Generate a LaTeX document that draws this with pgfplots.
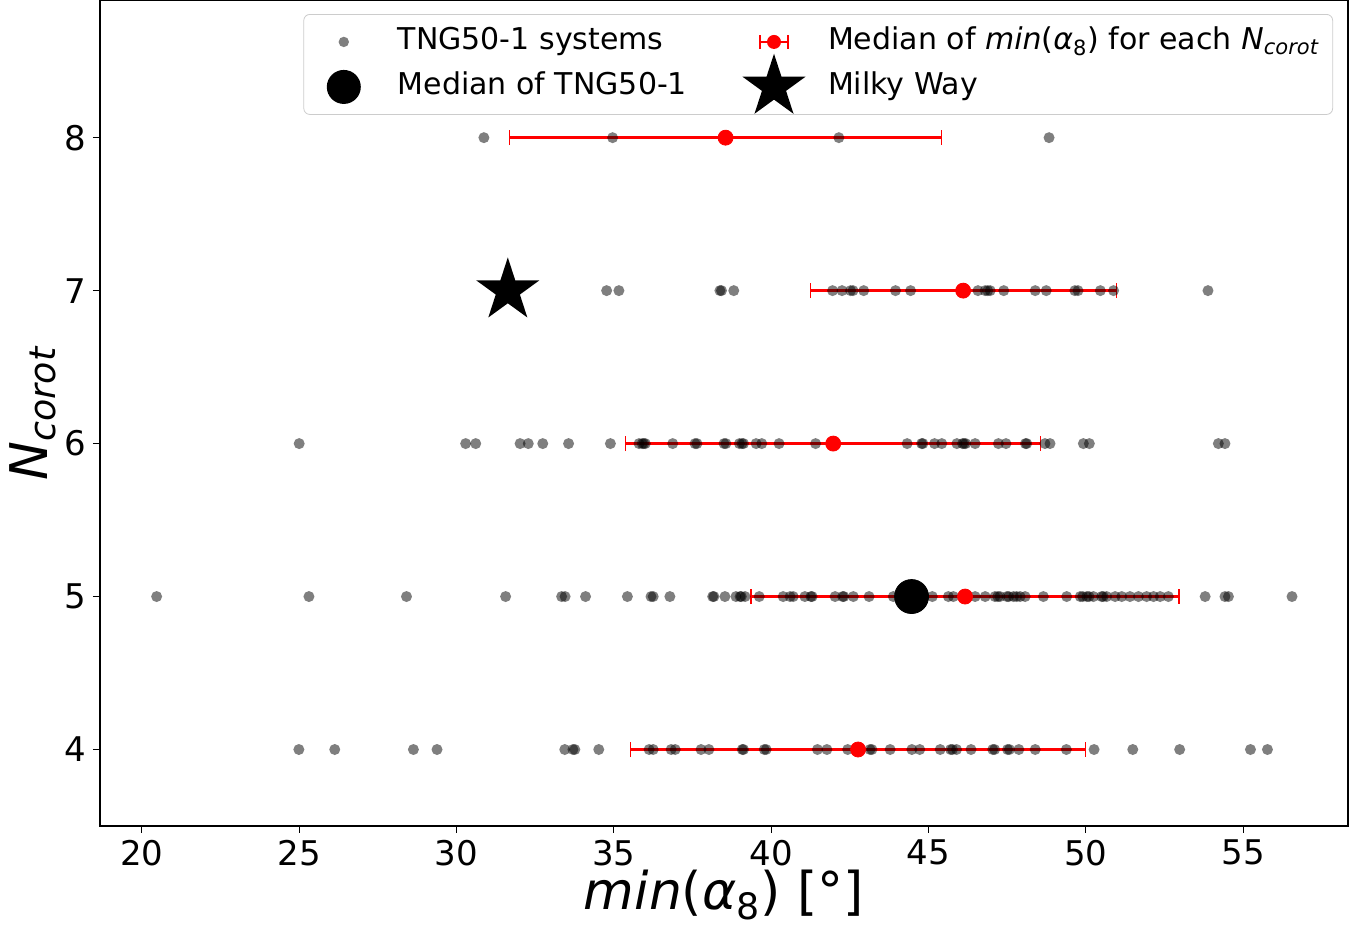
\documentclass[border=0pt]{standalone}
\usepackage{fontspec}
\setmainfont{DejaVu Sans}
\usepackage{pgfplots}
\pgfplotsset{compat=1.18}

\pgfdeclareplotmark{fstar}{%
  \pgfpathmoveto{\pgfpointpolar{90}{\pgfplotmarksize}}%
  \pgfpathlineto{\pgfpointpolar{126}{0.381966*\pgfplotmarksize}}%
  \pgfpathlineto{\pgfpointpolar{162}{\pgfplotmarksize}}%
  \pgfpathlineto{\pgfpointpolar{198}{0.381966*\pgfplotmarksize}}%
  \pgfpathlineto{\pgfpointpolar{234}{\pgfplotmarksize}}%
  \pgfpathlineto{\pgfpointpolar{270}{0.381966*\pgfplotmarksize}}%
  \pgfpathlineto{\pgfpointpolar{306}{\pgfplotmarksize}}%
  \pgfpathlineto{\pgfpointpolar{342}{0.381966*\pgfplotmarksize}}%
  \pgfpathlineto{\pgfpointpolar{18}{\pgfplotmarksize}}%
  \pgfpathlineto{\pgfpointpolar{54}{0.381966*\pgfplotmarksize}}%
  \pgfpathclose
  \pgfusepathqfill
}

\begin{document}
\begin{tikzpicture}
\begin{axis}[
  name=ax,
  scale only axis, width=624pt, height=413pt,
  xmin=18.67, xmax=58.33, ymin=3.5, ymax=8.9,
  xtick={20,25,30,35,40,45,50,55}, ytick={4,5,6,7,8},
  tick align=outside, tick pos=left, major tick length=3.5pt,
  every tick/.style={black, line width=0.6pt},
  axis line style={line width=0.6pt},
  tick label style={font=\fontsize{17}{20}\selectfont},
  /pgf/number format/assume math mode=true,
  xlabel={\textit{min}(\textit{α}\textsubscript{8}) [°]},
  ylabel={\textit{N}\textsubscript{\textit{corot}}},
  label style={font=\fontsize{26}{31}\selectfont},
  xlabel style={at={(axis description cs:0.5,-0.084)}, anchor=center},
  ylabel style={at={(axis description cs:-0.0537,0.5)}, anchor=center},
  legend columns=2,
  legend cell align=left,
  legend style={at={(0.988,0.983)}, anchor=north east, draw=black!20, rounded corners=3pt, fill=white,
    font=\fontsize{15}{18}\selectfont, inner xsep=4.5pt, inner ysep=4.5pt, row sep=4pt,
    nodes={inner sep=2pt, text height=11pt, text depth=3.5pt},
    /tikz/every odd column/.append style={column sep=13pt},
    /tikz/every even column/.append style={column sep=26pt}},
]
% TNG50-1 systems
\addplot[only marks, mark=*, mark size=2.75pt, mark options={fill=black, fill opacity=0.5, draw opacity=0},
  legend image code/.code={\path[draw=none, fill=none, sharp corners] (-3.5pt,-3pt) rectangle (24pt,3pt); \fill[black, fill opacity=0.5, draw=none] (12pt,0pt) circle (2.6pt);}]
coordinates {
(30.87,8) (34.96,8) (42.15,8) (48.83,8)
(34.77,7) (35.16,7) (38.37,7) (38.42,7) (38.81,7) (41.95,7) (42.25,7) (42.52,7) (42.6,7) (42.94,7)
(43.95,7) (44.43,7) (46.57,7) (46.8,7) (46.88,7) (46.96,7) (47.39,7) (48.39,7) (48.74,7) (49.65,7)
(49.75,7) (50.46,7) (50.88,7) (53.88,7)
(25.0,6) (30.29,6) (30.61,6) (32.02,6) (32.28,6) (32.74,6) (33.56,6) (34.89,6) (35.8,6) (35.9,6)
(35.95,6) (36.0,6) (36.87,6) (37.58,6) (37.64,6) (38.5,6) (38.56,6) (38.99,6) (39.07,6) (39.12,6)
(39.52,6) (39.70,6) (40.25,6) (41.41,6) (44.32,6) (44.78,6) (44.82,6) (45.19,6) (45.42,6) (45.9,6)
(46.08,6) (46.13,6) (46.18,6) (46.48,6) (47.22,6) (47.46,6) (48.08,6) (48.12,6) (48.70,6) (48.86,6)
(49.92,6) (50.11,6) (54.21,6) (54.42,6)
(20.47,5) (25.31,5) (28.41,5) (31.56,5) (33.34,5) (33.45,5) (34.10,5) (35.43,5) (36.18,5) (36.25,5)
(36.78,5) (38.14,5) (38.18,5) (38.53,5) (38.88,5) (39.01,5) (39.05,5) (39.17,5) (39.62,5) (40.38,5)
(40.60,5) (40.70,5) (41.07,5) (41.26,5) (41.30,5) (42.03,5) (42.27,5) (42.31,5) (42.61,5) (43.11,5)
(43.88,5) (45.12,5) (45.63,5) (45.79,5) (46.21,5) (46.48,5) (46.80,5) (47.11,5) (47.2,5) (47.27,5)
(47.49,5) (47.55,5) (47.70,5) (47.8,5) (47.91,5) (48.07,5) (48.65,5) (49.39,5) (49.82,5) (49.9,5)
(50.03,5) (50.1,5) (50.24,5) (50.50,5) (50.55,5) (50.66,5) (50.93,5) (51.14,5) (51.40,5) (51.67,5)
(51.93,5) (52.15,5) (52.36,5) (52.62,5) (53.79,5) (54.42,5) (54.53,5) (56.55,5)
(24.99,4) (26.13,4) (28.63,4) (29.38,4) (33.44,4) (33.70,4) (33.76,4) (34.52,4) (36.12,4) (36.25,4)
(36.82,4) (36.95,4) (37.77,4) (38.02,4) (39.08,4) (39.12,4) (39.78,4) (39.84,4) (41.47,4) (41.77,4)
(42.43,4) (42.76,4) (43.14,4) (43.2,4) (43.78,4) (44.47,4) (44.72,4) (45.37,4) (45.7,4) (45.76,4)
(45.89,4) (46.35,4) (47.04,4) (47.1,4) (47.51,4) (47.57,4) (47.87,4) (48.39,4) (49.38,4) (50.26,4)
(51.49,4) (52.98,4) (55.23,4) (55.77,4)
};
\addlegendentry{TNG50-1 systems}
% Medians per N_corot
\addplot[only marks, mark=*, mark size=3.75pt, red, mark options={fill=red, draw=red},
  error bars/.cd, x dir=both, x explicit, error mark=|,
  error bar style={line width=1.3pt, red},
  error mark options={line width=0.6pt, red, mark size=3.75pt},
  /pgfplots/legend image code/.code={\path[draw=none, fill=none, sharp corners] (-3.5pt,-3pt) rectangle (24pt,3pt);
    \draw[red, line width=1.3pt, sharp corners] (5pt,0pt)--(19pt,0pt);
    \draw[red, line width=0.6pt, sharp corners] (5pt,-3.5pt)--(5pt,3.5pt) (19pt,-3.5pt)--(19pt,3.5pt);
    \fill[red, draw=none] (12pt,0pt) circle (3.5pt);}]
coordinates {
(38.55,8) +- (6.87,0)
(46.10,7) +- (4.86,0)
(41.97,6) +- (6.60,0)
(46.16,5) +- (6.80,0)
(42.76,4) +- (7.23,0)
};
\addlegendentry{Median of \textit{min}(\textit{α}\textsubscript{8}) for each \textit{N}\textsubscript{\textit{corot}}}
% Median of TNG50-1
\addplot[only marks, mark=*, mark size=8.5pt, mark options={fill=black, draw=black},
  legend image code/.code={\path[draw=none, fill=none, sharp corners] (-3.5pt,-3pt) rectangle (24pt,3pt); \fill[black, draw=none, overlay] (12pt,0pt) circle (8.5pt);}]
coordinates {(44.46,5)};
\addlegendentry{Median of TNG50-1}
% Milky Way
\addplot[only marks, mark=fstar, mark size=16.6pt, mark options={fill=black, draw=black},
  legend image code/.code={\path[draw=none, fill=none, sharp corners] (-3.5pt,-3pt) rectangle (24pt,3pt); \path[overlay, fill=black, draw=none] plot[mark=fstar, mark size=16.6pt, mark options={fill=black}] coordinates {(12pt,0pt)};}]
coordinates {(31.63,7)};
\addlegendentry{Milky Way}
\end{axis}
\pgfresetboundingbox
\path ([xshift=-50pt,yshift=-54pt]ax.south west) rectangle ([xshift=9.5pt]ax.north east);
\end{tikzpicture}
\end{document}
